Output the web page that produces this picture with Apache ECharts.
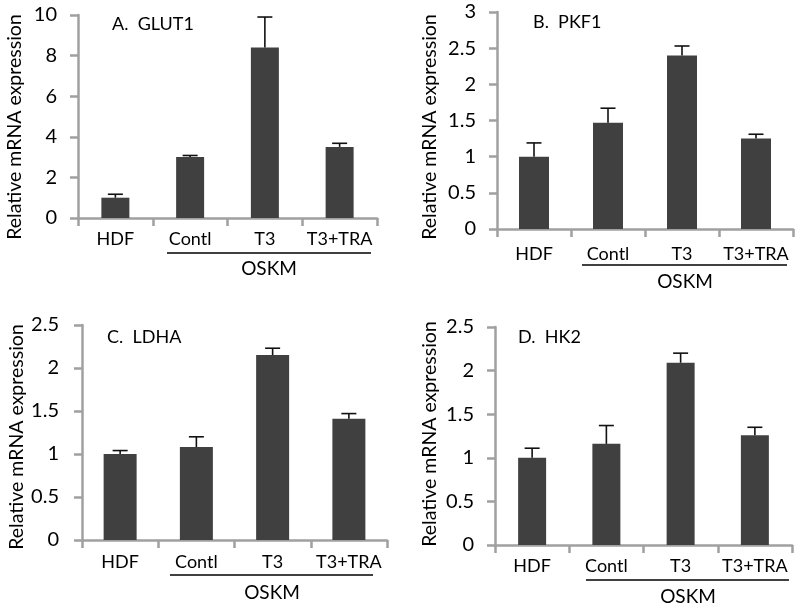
<!DOCTYPE html>
<html><head><meta charset="utf-8">
<script src="https://cdn.jsdelivr.net/npm/echarts@6/dist/echarts.min.js"></script>
<style>html,body{margin:0;padding:0;background:#fff}#c{width:800px;height:609px}</style>
</head><body><div id="c"></div>
<script>
const categories = ['HDF', 'Contl', 'T3', 'T3+TRA'];
const glut1 = [1.0, 3.0, 8.4, 3.5];
const glut1Err = [0.17, 0.08, 1.5, 0.18];
const pkf1 = [1.0, 1.47, 2.4, 1.25];
const pkf1Err = [0.19, 0.2, 0.13, 0.06];
const ldha = [1.0, 1.08, 2.15, 1.41];
const ldhaErr = [0.04, 0.12, 0.08, 0.06];
const hk2 = [1.0, 1.16, 2.09, 1.26];
const hk2Err = [0.11, 0.21, 0.11, 0.09];
const panelTitles = ['A.  GLUT1', 'B.  PKF1', 'C.  LDHA', 'D.  HK2'];
const yMax = [10, 3, 2.5, 2.5];
const yStep = [2, 0.5, 0.5, 0.5];
const groupLabel = 'OSKM';
const yTitle = 'Relative mRNA expression';

const FONT = 'Lato';
const values = [glut1, pkf1, ldha, hk2];
const errs = [glut1Err, pkf1Err, ldhaErr, hk2Err];
const grids = [
  {left: 78, top: 15, width: 299, height: 203},
  {left: 497, top: 12, width: 296, height: 217},
  {left: 82, top: 325, width: 305, height: 215},
  {left: 495, top: 327, width: 297, height: 218}
];
const barW = [28, 30, 33, 28];
const labelMargin = [21, 21, 23, 21];
const catMargin = [12, 16, 13, 12];
const titlePos = [[107, 10], [528, 8], [102, 323], [513, 323]];
const yTitlePos = [[15, 127], [430, 127], [17, 437], [430, 434]];
const underline = [[167, 371, 253], [582, 787, 265], [170, 373, 575], [586, 789, 580]];
const groupPos = [[269, 269], [685, 282], [272, 593], [688, 597]];

const axisColor = '#a0a0a0';
const option = {
  animation: false,
  grid: grids,
  title: panelTitles.map((t, i) => ({
    text: t, left: titlePos[i][0], top: titlePos[i][1],
    textStyle: {fontFamily: FONT, fontSize: 18, fontWeight: 'normal', color: '#000'}
  })),
  xAxis: grids.map((g, i) => ({
    type: 'category', gridIndex: i, data: categories,
    axisLine: {lineStyle: {color: axisColor, width: 2.5}},
    axisTick: {show: true, length: 8, lineStyle: {color: axisColor, width: 2.5}},
    axisLabel: {fontFamily: FONT, fontSize: 18, color: '#000', margin: catMargin[i], interval: 0}
  })),
  yAxis: grids.map((g, i) => ({
    type: 'value', gridIndex: i, min: 0, max: yMax[i], interval: yStep[i],
    splitLine: {show: false},
    axisLine: {show: true, lineStyle: {color: axisColor, width: 2.5}},
    axisTick: {show: true, length: 8, lineStyle: {color: axisColor, width: 2.5}},
    axisLabel: {fontFamily: FONT, fontSize: 20, color: '#000', margin: labelMargin[i]}
  })),
  series: [],
  graphic: []
};
values.forEach((v, i) => {
  option.series.push({
    type: 'bar', xAxisIndex: i, yAxisIndex: i, data: v, barWidth: barW[i],
    itemStyle: {color: '#404040'}, z: 2
  });
  option.series.push({
    type: 'custom', xAxisIndex: i, yAxisIndex: i, z: 3,
    data: v.map((val, k) => [k, val, val + errs[i][k]]),
    renderItem: function (params, api) {
      const lo = api.coord([api.value(0), api.value(1)]);
      const hi = api.coord([api.value(0), api.value(2)]);
      const cw = 7.5;
      const st = {stroke: '#111', lineWidth: 1.6};
      return {type: 'group', children: [
        {type: 'line', shape: {x1: lo[0], y1: lo[1], x2: hi[0], y2: hi[1]}, style: st},
        {type: 'line', shape: {x1: hi[0] - cw, y1: hi[1], x2: hi[0] + cw, y2: hi[1]}, style: st}
      ]};
    }
  });
  option.graphic.push({
    type: 'text', x: yTitlePos[i][0], y: yTitlePos[i][1], rotation: Math.PI / 2,
    style: {text: yTitle, fontFamily: FONT, fontSize: 19.5, fill: '#000', align: 'center', verticalAlign: 'middle'}
  });
  option.graphic.push({
    type: 'line', shape: {x1: underline[i][0], y1: underline[i][2], x2: underline[i][1], y2: underline[i][2]},
    style: {stroke: '#000', lineWidth: 1.5}
  });
  option.graphic.push({
    type: 'text', x: groupPos[i][0], y: groupPos[i][1],
    style: {text: groupLabel, fontFamily: FONT, fontSize: 19, fill: '#000', align: 'center', verticalAlign: 'middle'}
  });
});
const chart = echarts.init(document.getElementById('c'), null, {renderer: 'canvas'});
chart.setOption(option);
</script></body></html>
